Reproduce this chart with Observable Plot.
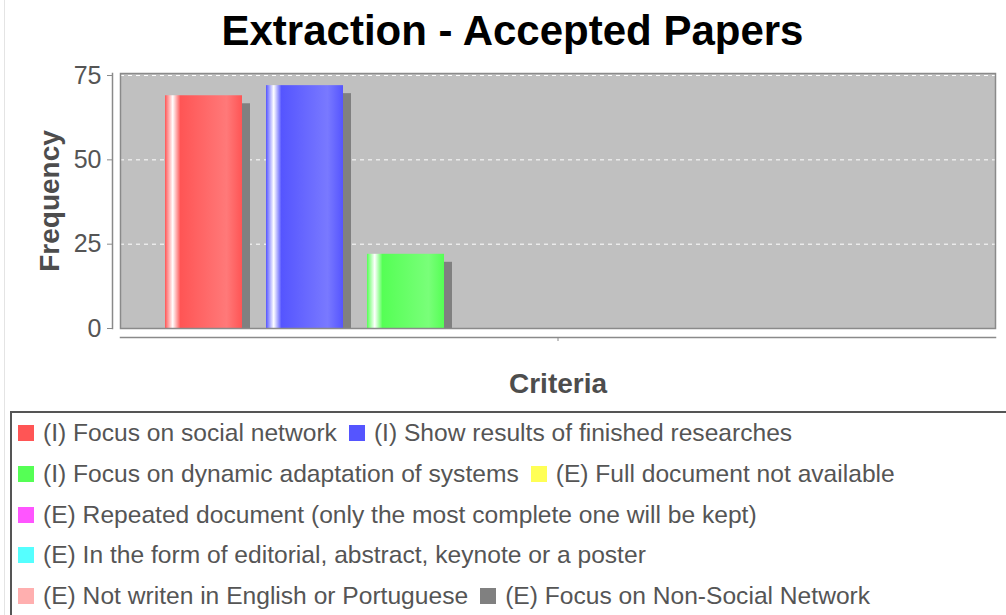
<!DOCTYPE html>
<html><head><meta charset="utf-8">
<script src="https://cdn.jsdelivr.net/npm/d3@7"></script>
<script src="https://cdn.jsdelivr.net/npm/@observablehq/plot@0.6"></script>
<style>
body{margin:0;background:#fff;}
#wrap{position:relative;width:1006px;height:615px;overflow:hidden;font-family:"Liberation Sans",Arial,sans-serif;}
#edge{position:absolute;left:4px;top:0;width:1px;height:615px;background:#e4e4e4;}
#title{position:absolute;left:0;top:0;width:1025px;height:62px;line-height:62px;text-align:center;font-weight:bold;font-size:42px;color:#000;}
#chart{position:absolute;left:0;top:62px;}
#legend{position:absolute;left:10px;top:411px;width:1010px;height:240px;border:2px solid #555;box-sizing:border-box;padding:0 0 0 6px;display:flex;flex-wrap:wrap;align-content:flex-start;}
.item{display:flex;align-items:center;height:40.7px;margin-right:12px;font-size:24.6px;color:#555;white-space:nowrap;}
.sw{width:16px;height:16px;margin-right:9px;flex:none;}
</style>
</head><body>
<div id="wrap">
  <div id="edge"></div>
  <div id="title"></div>
  <div id="chart"></div>
  <div id="legend"></div>
</div>
<script>
const titleText = "Extraction - Accepted Papers";
const xLabel = "Criteria";
const yLabel = "Frequency";
const categories = [""];
const series = [
  "(I) Focus on social network",
  "(I) Show results of finished researches",
  "(I) Focus on dynamic adaptation of systems",
  "(E) Full document not available",
  "(E) Repeated document (only the most complete one will be kept)",
  "(E) In the form of editorial, abstract, keynote or a poster",
  "(E) Not writen in English or Portuguese",
  "(E) Focus on Non-Social Network"
];
const values = [69, 72, 22, 0, 0, 0, 0, 0];
const colors = ["#ff5555", "#5555ff", "#55ff55", "#ffff55", "#ff55ff", "#55ffff", "#ffafaf", "#808080"];
const yTicks = [0, 25, 50, 75];
const yMax = 75.6;

document.getElementById("title").textContent = titleText;

const rows = series.map((s, i) => ({category: categories[0], series: s, value: values[i]}));
const gradIds = series.map((s, i) => "grad" + i);

function brighter(hex) {
  const c = d3.rgb(hex);
  const f = v => Math.min(255, Math.floor((v > 0 && v < 3 ? 3 : v) / 0.7));
  return d3.rgb(f(c.r), f(c.g), f(c.b)).formatHex();
}

const axisColor = "#8a8a8a";
const chart = Plot.plot({
  width: 1006, height: 348,
  marginTop: 11, marginBottom: 82, marginLeft: 120, marginRight: 11,
  style: {fontFamily: "Liberation Sans, Arial, sans-serif", background: "transparent", overflow: "visible"},
  fx: {domain: categories, padding: 0, label: null},
  x: {domain: series, paddingInner: 0.2376, paddingOuter: 0.45, axis: null},
  y: {domain: [0, yMax], axis: null},
  color: {domain: series, range: gradIds.map(id => `url(#${id})`)},
  marks: [
    Plot.frame({fill: "#c0c0c0"}),
    Plot.gridY(yTicks.slice(1), {stroke: "#ffffff", strokeOpacity: 1, strokeWidth: 1, strokeDasharray: "4,4"}),
    Plot.barY(rows, {fx: "category", x: "series", y: "value", fill: "#808080", dx: 8, dy: 8, clip: "frame"}),
    Plot.barY(rows, {fx: "category", x: "series", y: "value", fill: "series"}),
    Plot.frame({stroke: axisColor, strokeWidth: 1.5}),
    Plot.frame({anchor: "left", dx: -8, stroke: axisColor, strokeWidth: 1.5}),
    Plot.frame({anchor: "bottom", dy: 9, stroke: axisColor, strokeWidth: 1.5}),
    Plot.axisY({ticks: yTicks, tickSize: 5, tickPadding: 6, dx: -8, fontSize: 25, fill: "#555", stroke: axisColor, label: null}),
    Plot.axisFx({anchor: "bottom", tickSize: 4, dy: 9, tickFormat: () => "", label: null, stroke: axisColor}),
    Plot.text([xLabel], {text: d => d, frameAnchor: "bottom", dy: 64, lineAnchor: "bottom", textAnchor: "middle", fontSize: 28, fontWeight: "bold", fill: "#4d4d4d"}),
    Plot.text([yLabel], {text: d => d, frameAnchor: "left", dx: -70, rotate: -90, textAnchor: "middle", lineAnchor: "middle", fontSize: 28, fontWeight: "bold", fill: "#4d4d4d"})
  ]
});

const defs = d3.select(chart).insert("defs", ":first-child");
colors.forEach((c0, i) => {
  const c1 = brighter(c0);
  const g = defs.append("linearGradient").attr("id", gradIds[i]).attr("x1", 0).attr("x2", 1).attr("y1", 0).attr("y2", 0);
  [[0, c0], [0.1, "#ffffff"], [0.2, c0], [0.8, c1], [1, c0]].forEach(([o, c]) => {
    g.append("stop").attr("offset", o).attr("stop-color", c);
  });
});
document.getElementById("chart").appendChild(chart);

const legend = d3.select("#legend");
series.forEach((s, i) => {
  const it = legend.append("div").attr("class", "item");
  it.append("div").attr("class", "sw").style("background", colors[i]);
  it.append("span").text(s);
});
</script>
</body></html>
